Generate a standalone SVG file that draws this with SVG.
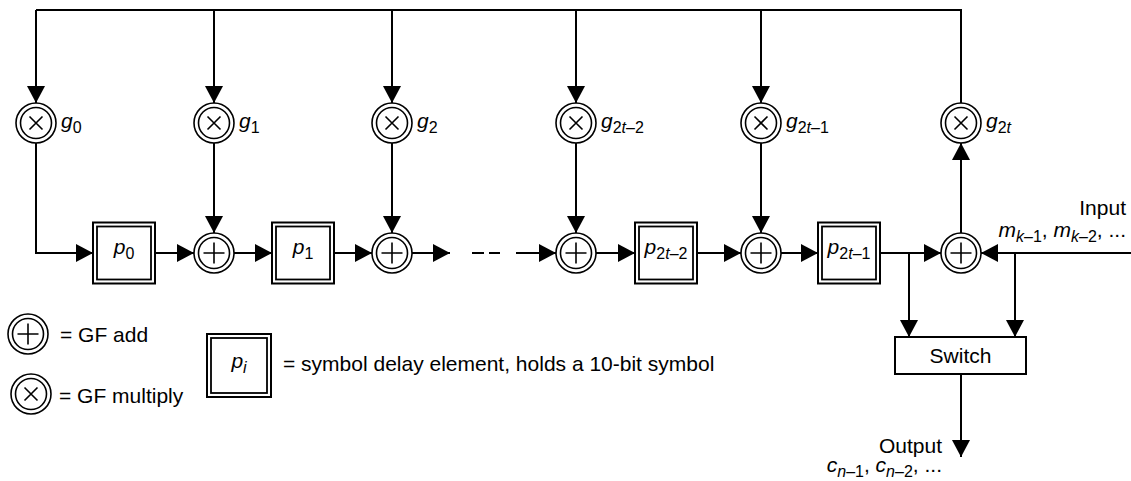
<svg xmlns="http://www.w3.org/2000/svg" xmlns:xlink="http://www.w3.org/1999/xlink" width="1131" height="481" viewBox="0 0 1131 481">
<style>
.ln{stroke:#000;stroke-width:2;fill:none}
.c1{fill:#fff;stroke:#000;stroke-width:1.6}
.sym{stroke:#000;stroke-width:1.6;fill:none}
.bo{fill:#fff;stroke:#000;stroke-width:2}
.bi{fill:none;stroke:#000;stroke-width:1.8}
text{font-family:"Liberation Sans",Arial,sans-serif;font-size:21px;fill:#000}
.it{font-style:italic}
.sub{font-size:16px}
</style>
<defs>
<marker id="ah" viewBox="0 0 17 18" refX="17" refY="9" markerWidth="17" markerHeight="18" markerUnits="userSpaceOnUse" orient="auto"><path d="M0,0 L17,9 L0,18 z" fill="#000"/></marker>
<g id="mul"><circle r="20" class="c1"/><circle r="15.5" class="c1"/><path d="M-6.5,-6.5 L6.5,6.5 M6.5,-6.5 L-6.5,6.5" class="sym"/></g>
<g id="add"><circle r="20" class="c1"/><circle r="15.5" class="c1"/><path d="M-10.5,0 H10.5 M0,-10.5 V10.5" class="sym"/></g>
<g id="dbox"><rect x="0" y="0" width="62" height="61" class="bo"/><rect x="4" y="4" width="54" height="53" class="bi"/></g>
</defs>

<g id="connectors">
<path class="ln" d="M36,10 H961 V103"/>
<path class="ln" d="M36,10 V103" marker-end="url(#ah)"/>
<path class="ln" d="M214,10 V103" marker-end="url(#ah)"/>
<path class="ln" d="M392,10 V103" marker-end="url(#ah)"/>
<path class="ln" d="M576,10 V103" marker-end="url(#ah)"/>
<path class="ln" d="M761,10 V103" marker-end="url(#ah)"/>
<path class="ln" d="M36,143 V253 H93" marker-end="url(#ah)"/>
<path class="ln" d="M155,253 H194" marker-end="url(#ah)"/>
<path class="ln" d="M214,143 V233" marker-end="url(#ah)"/>
<path class="ln" d="M234,253 H272" marker-end="url(#ah)"/>
<path class="ln" d="M334,253 H372" marker-end="url(#ah)"/>
<path class="ln" d="M392,143 V233" marker-end="url(#ah)"/>
<path class="ln" d="M412,253 H450" marker-end="url(#ah)"/>
<path class="ln" d="M472,253 H484 M489,253 H500"/>
<path class="ln" d="M516,253 H556" marker-end="url(#ah)"/>
<path class="ln" d="M576,143 V233" marker-end="url(#ah)"/>
<path class="ln" d="M596,253 H635" marker-end="url(#ah)"/>
<path class="ln" d="M697,253 H741" marker-end="url(#ah)"/>
<path class="ln" d="M761,143 V233" marker-end="url(#ah)"/>
<path class="ln" d="M781,253 H818" marker-end="url(#ah)"/>
<path class="ln" d="M880,253 H941" marker-end="url(#ah)"/>
<path class="ln" d="M909,253 V337" marker-end="url(#ah)"/>
<path class="ln" d="M1131,253 H981" marker-end="url(#ah)"/>
<path class="ln" d="M1015,253 V337" marker-end="url(#ah)"/>
<path class="ln" d="M961,233 V143" marker-end="url(#ah)"/>
<path class="ln" d="M961,374 V457" marker-end="url(#ah)"/>
</g>

<g id="mul0"><use xlink:href="#mul" x="36" y="123"/><text x="61" y="128"><tspan class="it">g</tspan><tspan class="sub" dy="5">0</tspan></text></g>
<g id="mul1"><use xlink:href="#mul" x="214" y="123"/><text x="239" y="128"><tspan class="it">g</tspan><tspan class="sub" dy="5">1</tspan></text></g>
<g id="mul2"><use xlink:href="#mul" x="392" y="123"/><text x="417" y="128"><tspan class="it">g</tspan><tspan class="sub" dy="5">2</tspan></text></g>
<g id="mul2t-2"><use xlink:href="#mul" x="576" y="123"/><text x="601" y="128"><tspan class="it">g</tspan><tspan class="sub" dy="5">2<tspan class="it">t</tspan>–2</tspan></text></g>
<g id="mul2t-1"><use xlink:href="#mul" x="761" y="123"/><text x="786" y="128"><tspan class="it">g</tspan><tspan class="sub" dy="5">2<tspan class="it">t</tspan>–1</tspan></text></g>
<g id="mul2t"><use xlink:href="#mul" x="961" y="123"/><text x="986" y="128"><tspan class="it">g</tspan><tspan class="sub" dy="5">2<tspan class="it">t</tspan></tspan></text></g>

<g id="add1"><use xlink:href="#add" x="214" y="253"/></g>
<g id="add2"><use xlink:href="#add" x="392" y="253"/></g>
<g id="add3"><use xlink:href="#add" x="576" y="253"/></g>
<g id="add4"><use xlink:href="#add" x="761" y="253"/></g>
<g id="add5"><use xlink:href="#add" x="961" y="253"/></g>

<g id="p0"><use xlink:href="#dbox" x="93" y="222.5"/><text x="124" y="254" text-anchor="middle"><tspan class="it">p</tspan><tspan class="sub" dy="5">0</tspan></text></g>
<g id="p1"><use xlink:href="#dbox" x="272" y="222.5"/><text x="303" y="254" text-anchor="middle"><tspan class="it">p</tspan><tspan class="sub" dy="5">1</tspan></text></g>
<g id="p2t-2"><use xlink:href="#dbox" x="635" y="222.5"/><text x="666" y="254" text-anchor="middle"><tspan class="it">p</tspan><tspan class="sub" dy="5">2<tspan class="it">t</tspan>–2</tspan></text></g>
<g id="p2t-1"><use xlink:href="#dbox" x="818" y="222.5"/><text x="849" y="254" text-anchor="middle"><tspan class="it">p</tspan><tspan class="sub" dy="5">2<tspan class="it">t</tspan>–1</tspan></text></g>

<g id="input"><text x="1126" y="215" text-anchor="end">Input</text><text x="1126" y="237" text-anchor="end"><tspan class="it">m</tspan><tspan class="sub it" dy="5">k</tspan><tspan class="sub" >–1</tspan><tspan dy="-5">, </tspan><tspan class="it">m</tspan><tspan class="sub it" dy="5">k</tspan><tspan class="sub">–2</tspan><tspan dy="-5">, ...</tspan></text></g>

<g id="switch"><rect x="895" y="337" width="131" height="37" fill="#fff" stroke="#000" stroke-width="2"/><text x="960.5" y="363" text-anchor="middle">Switch</text></g>

<g id="output"><text x="942" y="453" text-anchor="end">Output</text><text x="942" y="472" text-anchor="end"><tspan class="it">c</tspan><tspan class="sub it" dy="5">n</tspan><tspan class="sub">–1</tspan><tspan dy="-5">, </tspan><tspan class="it">c</tspan><tspan class="sub it" dy="5">n</tspan><tspan class="sub">–2</tspan><tspan dy="-5">, ...</tspan></text></g>

<g id="legend">
<use xlink:href="#add" x="28" y="334"/>
<text x="60" y="342">= GF add</text>
<use xlink:href="#mul" x="31" y="394"/>
<text x="59" y="403">= GF multiply</text>
<rect x="207" y="334" width="64" height="63" class="bo"/><rect x="211" y="338" width="56" height="55" class="bi"/>
<text x="239" y="368" text-anchor="middle"><tspan class="it">p</tspan><tspan class="sub it" dy="5">i</tspan></text>
<text x="283" y="371">= symbol delay element, holds a 10-bit symbol</text>
</g>
</svg>
